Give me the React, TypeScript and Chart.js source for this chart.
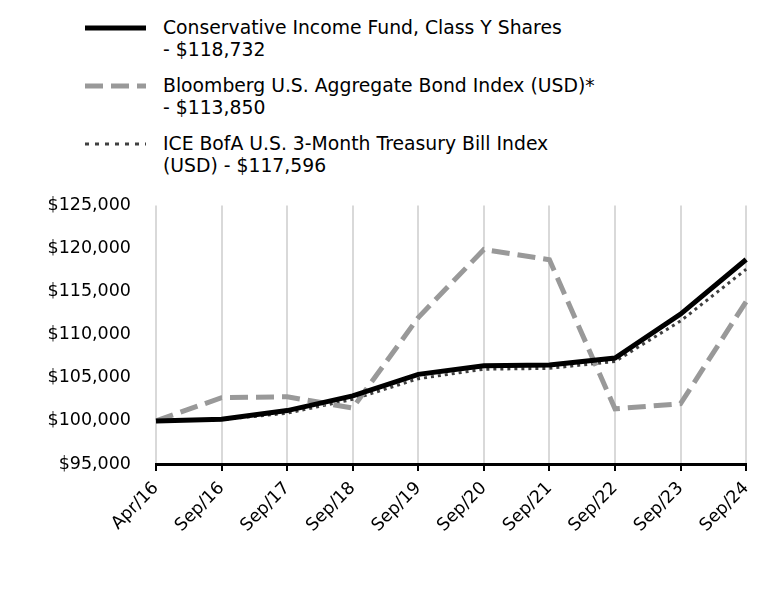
import React, { useEffect, useRef } from "react";
import { Chart, registerables } from "chart.js";

Chart.register(...registerables);

const categories = ["Apr/16", "Sep/16", "Sep/17", "Sep/18", "Sep/19", "Sep/20", "Sep/21", "Sep/22", "Sep/23", "Sep/24"];
const fundValues = [100000, 100200, 101200, 102900, 105400, 106400, 106500, 107300, 112400, 118732];
const bondValues = [100000, 102700, 102800, 101500, 112000, 119900, 118700, 101400, 102000, 113850];
const tbillValues = [100000, 100150, 100900, 102500, 104900, 106000, 106100, 106900, 111600, 117596];
const yTicks = [95000, 100000, 105000, 110000, 115000, 120000, 125000];

const legendItems = [
  { lines: ["Conservative Income Fund, Class Y Shares", "- $118,732"], color: "#000000", width: 5, dash: "" },
  { lines: ["Bloomberg U.S. Aggregate Bond Index (USD)*", "- $113,850"], color: "#999999", width: 5, dash: "18 8" },
  { lines: ["ICE BofA U.S. 3-Month Treasury Bill Index", "(USD) - $117,596"], color: "#404040", width: 3, dash: "4 6" },
];

const FONT = "'DejaVu Sans', Verdana, sans-serif";

export default function App() {
  const ref = useRef<HTMLCanvasElement | null>(null);
  useEffect(() => {
    if (!ref.current) return;
    const chart = new Chart(ref.current, {
      type: "line",
      data: {
        labels: categories,
        datasets: [
          { label: "Fund", data: fundValues, borderColor: "#000000", borderWidth: 5, pointRadius: 0, tension: 0, fill: false },
          { label: "Bond", data: bondValues, borderColor: "#999999", borderWidth: 5, borderDash: [18, 8], pointRadius: 0, tension: 0, fill: false },
          { label: "TBill", data: tbillValues, borderColor: "#404040", borderWidth: 3, borderDash: [3, 4], pointRadius: 0, tension: 0, fill: false },
        ],
      },
      options: {
        animation: false,
        responsive: false,
        maintainAspectRatio: false,
        layout: { padding: { top: 15, right: 18, left: 0, bottom: 0 } },
        plugins: { legend: { display: false }, tooltip: { enabled: false } },
        scales: {
          x: {
            type: "category",
            offset: false,
            grid: { display: true, color: "#d9d9d9", lineWidth: 2, drawTicks: true, tickLength: 7, tickColor: "#000000", tickWidth: 2 },
            border: { display: true, color: "#000000", width: 3 },
            ticks: { color: "#000000", font: { family: FONT, size: 17.5 }, maxRotation: 45, minRotation: 45, padding: 7, autoSkip: false },
            afterFit: (s: any) => { s.height = 148; },
          },
          y: {
            min: 95000,
            max: 125000,
            grid: { display: false, drawTicks: false },
            border: { display: false },
            afterBuildTicks: (s: any) => { s.ticks = yTicks.map((v) => ({ value: v })); },
            ticks: {
              color: "#000000",
              font: { family: FONT, size: 17.5 },
              padding: 25,
              callback: (v: any) => "$" + Number(v).toLocaleString("en-US"),
            },
            afterFit: (s: any) => { s.width = 156; },
          },
        },
      },
    });
    return () => chart.destroy();
  }, []);

  return (
    <div style={{ position: "absolute", left: 0, top: 0, width: 768, height: 612, background: "#ffffff", fontFamily: FONT }}>
      {legendItems.map((it, i) => (
        <div key={i} style={{ position: "absolute", left: 0, top: 17 + i * 58, width: 768 }}>
          <svg width={70} height={22} style={{ position: "absolute", left: 80, top: 0 }}>
            <line x1={5} y1={11} x2={66} y2={11} stroke={it.color} strokeWidth={it.width} strokeDasharray={it.dash || undefined} />
          </svg>
          <div style={{ position: "absolute", left: 163, top: 0, fontSize: 18.8, lineHeight: "22px", color: "#000", whiteSpace: "nowrap" }}>
            {it.lines[0]}
            <br />
            {it.lines[1]}
          </div>
        </div>
      ))}
      <canvas ref={ref} width={768} height={442} style={{ position: "absolute", left: 0, top: 170, width: 768, height: 442 }} />
    </div>
  );
}
